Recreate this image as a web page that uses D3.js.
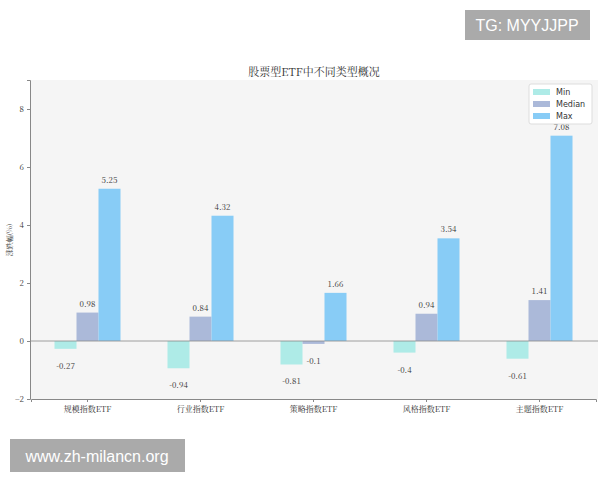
<!DOCTYPE html>
<html><head><meta charset="utf-8">
<script src="https://cdn.jsdelivr.net/npm/d3@7"></script>
<style>body{margin:0;background:#fff}</style>
</head><body><svg id="c" width="600" height="480"></svg>
<script>
const categories = ["规模指数ETF", "行业指数ETF", "策略指数ETF", "风格指数ETF", "主题指数ETF"];
const series = ["Min", "Median", "Max"];
const minVals = [-0.27, -0.94, -0.81, -0.4, -0.61];
const medianVals = [0.98, 0.84, -0.1, 0.94, 1.41];
const maxVals = [5.25, 4.32, 1.66, 3.54, 7.08];
const yTicks = [-2, 0, 2, 4, 6, 8];
const colors = ["#aeebe7", "#abb9d9", "#88ccf6"];
const serif = "'Noto Serif CJK SC','Noto Sans CJK SC',serif";

const svg = d3.select("#c");
const m = { left: 30, right: 598, top: 80, bottom: 399 };
const y = d3.scaleLinear().domain([-2, 9]).range([m.bottom, m.top]);
const x = d3.scaleBand().domain(categories).range([31, 596]).paddingInner(0).paddingOuter(0);
const bw = 22;

svg.append("rect").attr("x", m.left).attr("y", m.top)
  .attr("width", m.right - m.left).attr("height", m.bottom - m.top).attr("fill", "#f5f5f5");

svg.append("text").attr("x", 314).attr("y", 76).attr("text-anchor", "middle")
  .attr("font-size", 11).attr("font-family", serif).attr("fill", "#333").text("股票型ETF中不同类型概况");

const vals = [minVals, medianVals, maxVals];
categories.forEach((c, i) => {
  const cx = x(c) + x.bandwidth() / 2;
  vals.forEach((arr, s) => {
    const v = arr[i];
    const bx = cx - bw * 1.5 + s * bw;
    svg.append("rect").attr("x", bx).attr("width", bw)
      .attr("y", y(Math.max(0, v))).attr("height", Math.abs(y(v) - y(0)))
      .attr("fill", colors[s]);
    svg.append("text").attr("x", bx + bw / 2)
      .attr("y", v >= 0 ? y(v) - 6 : y(v) + 20)
      .attr("text-anchor", "middle").attr("font-size", 8).attr("font-family", serif)
      .attr("fill", "#333").text(v);
  });
});

svg.append("line").attr("x1", m.left).attr("x2", m.right).attr("y1", y(0)).attr("y2", y(0))
  .attr("stroke", "#888").attr("stroke-width", 0.8);

const yAxis = svg.append("g").attr("transform", `translate(${m.left},0)`)
  .call(d3.axisLeft(y).tickValues(yTicks).tickSize(3));
const xAxis = svg.append("g").attr("transform", `translate(0,${m.bottom})`)
  .call(d3.axisBottom(x).tickSize(3));
[yAxis, xAxis].forEach(a => {
  a.selectAll("path,line").attr("stroke", "#888");
  a.selectAll("text").attr("font-family", serif).attr("font-size", 8).attr("fill", "#333");
});
xAxis.selectAll("text").attr("dy", "0.9em");
xAxis.selectAll(".tick").attr("transform", d => `translate(${x(d) + x.bandwidth() / 2 - bw / 2 + bw / 2 - 11 + 11},0)`);

svg.append("text").attr("transform", "translate(12,240) rotate(-90)").attr("text-anchor", "middle")
  .attr("font-size", 7).attr("font-family", serif).attr("fill", "#333").text("涨跌幅(%)");

const lg = svg.append("g").attr("transform", "translate(529,84)");
lg.append("rect").attr("width", 63).attr("height", 40).attr("fill", "#fff").attr("stroke", "#ddd").attr("rx", 2);
series.forEach((s, i) => {
  lg.append("rect").attr("x", 4).attr("y", 5 + i * 12).attr("width", 17).attr("height", 6).attr("fill", colors[i]);
  lg.append("text").attr("x", 27).attr("y", 11 + i * 12).attr("font-size", 8)
    .attr("font-family", "'DejaVu Sans',sans-serif").attr("fill", "#333").text(s);
});

svg.append("rect").attr("x", 465).attr("y", 10).attr("width", 125).attr("height", 30).attr("fill", "#aaa");
svg.append("text").attr("x", 527).attr("y", 31).attr("text-anchor", "middle").attr("font-size", 16)
  .attr("font-family", "'Liberation Sans',sans-serif").attr("fill", "#fff").text("TG: MYYJJPP");
svg.append("rect").attr("x", 10).attr("y", 439).attr("width", 175).attr("height", 33).attr("fill", "#aaa");
svg.append("text").attr("x", 97).attr("y", 462).attr("text-anchor", "middle").attr("font-size", 16)
  .attr("font-family", "'Liberation Sans',sans-serif").attr("fill", "#fff").text("www.zh-milancn.org");
</script></body></html>
